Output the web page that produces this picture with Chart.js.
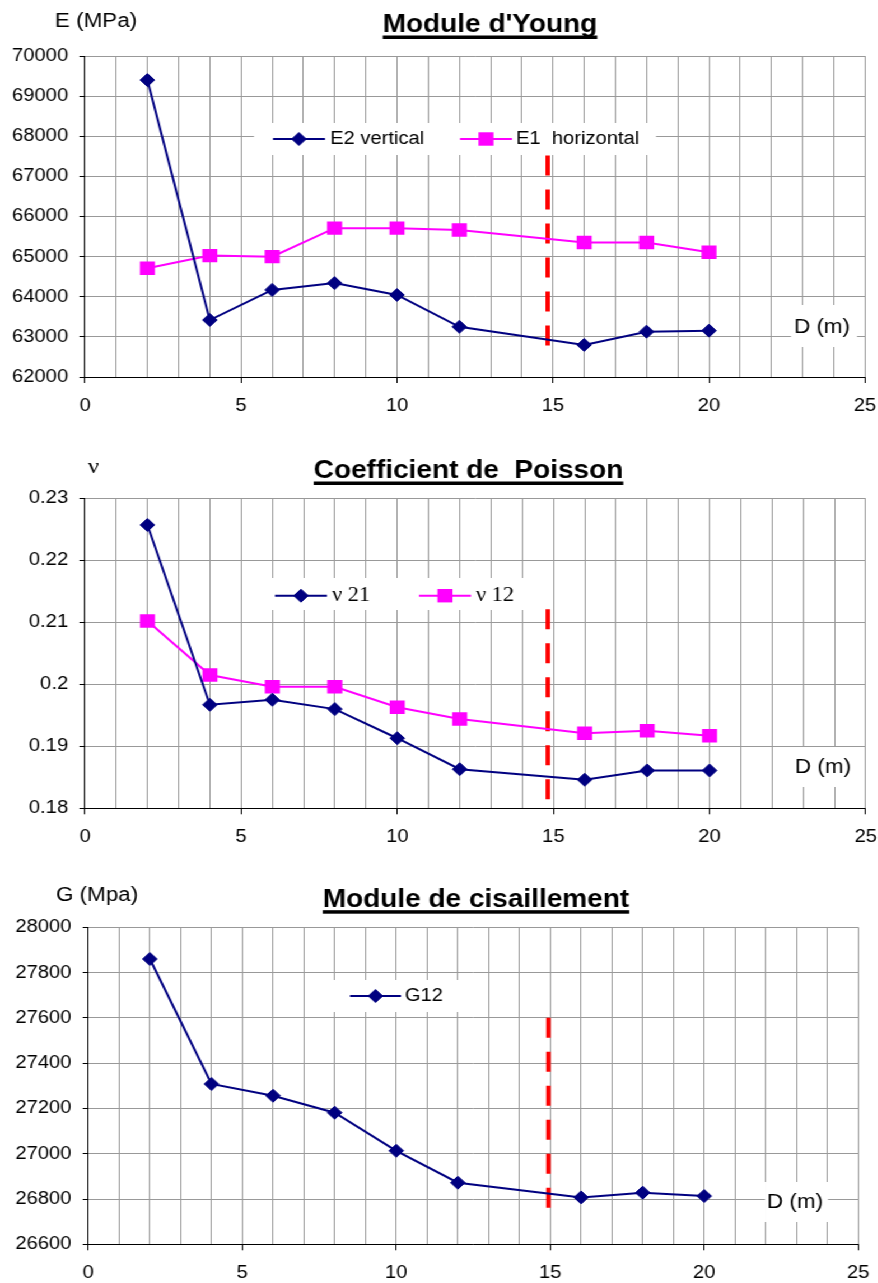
<!DOCTYPE html>
<html>
<head>
<meta charset="utf-8">
<script src="https://cdn.jsdelivr.net/npm/chart.js@4.4.0/dist/chart.umd.min.js"></script>
<style>
  body { margin: 0; background: #fff; }
  /* the original picture is stretched horizontally, so the charts are too */
  #wrap { width: 784px; transform: scaleX(1.12); transform-origin: 0 0; }
  canvas { display: block; }
</style>
</head>
<body>
<div id="wrap">
  <canvas id="young" width="784" height="430"></canvas>
  <canvas id="poisson" width="784" height="430"></canvas>
  <canvas id="shear" width="784" height="423"></canvas>
</div>
<script>
// depth D (m)
const depth = [2, 4, 6, 8, 10, 12, 16, 18, 20];

// Young's modulus (MPa)
const e2Vertical = [69400, 63420, 64170, 64340, 64045, 63250, 62800, 63130, 63155];
const e1Horizontal = [64710, 65025, 65000, 65710, 65710, 65665, 65350, 65350, 65110];

// Poisson ratios
const nu21 = [0.2257, 0.1967, 0.1975, 0.1960, 0.1913, 0.1863, 0.1846, 0.1861, 0.1861];
const nu12 = [0.2102, 0.2015, 0.1996, 0.1996, 0.1963, 0.1944, 0.1921, 0.1925, 0.1917];

// shear modulus (MPa)
const g12 = [27860, 27308, 27256, 27181, 27013, 26872, 26807, 26828, 26813];

// red dashed line near 15 m: [x, top, bottom]
const limitYoung = [14.83, 67520, 62655];
const limitPoisson = [14.82, 0.2121, 0.1809];
const limitShear = [14.94, 27600, 26740];

// axis ticks
const xTicks = [0, 5, 10, 15, 20, 25];
const eTicks = [62000, 63000, 64000, 65000, 66000, 67000, 68000, 69000, 70000];
const nuTicks = [0.18, 0.19, 0.2, 0.21, 0.22, 0.23];
const gTicks = [26600, 26800, 27000, 27200, 27400, 27600, 27800, 28000];

const STRETCH = 1.12;
const lx = x => x / STRETCH;   // picture x -> canvas x
const SANS = '"Liberation Sans", Arial, sans-serif';
const SERIF = '"Liberation Serif", "Times New Roman", serif';
const NAVY = '#000080', PINK = '#ff00ff', RED = '#ff0000', GRID = '#999999';

function series(label, values, color, style, radius) {
    return {
        label: label,
        data: depth.map((d, i) => ({ x: d, y: values[i] })),
        borderColor: color,
        backgroundColor: color,
        borderWidth: 2,
        pointStyle: style,
        pointRadius: radius,
        pointHoverRadius: radius,
        pointBorderWidth: style === 'rectRot' ? 1 : 0,
        pointBackgroundColor: color,
        pointBorderColor: color,
        tension: 0
    };
}

function limitLine(lim) {
    return {
        label: '',
        data: [{ x: lim[0], y: lim[1] }, { x: lim[0], y: lim[2] }],
        borderColor: RED,
        borderWidth: 4,
        borderDash: [20, 14],
        pointRadius: 0,
        pointHoverRadius: 0
    };
}

// titles, legend and "D (m)" label, positions in picture pixels
function overlay(cfg) {
    return {
        id: 'overlay',
        afterDatasetsDraw(chart) {
            const ctx = chart.ctx;
            const sets = chart.data.datasets;
            ctx.save();
            ctx.fillStyle = '#000';

            // y axis name
            ctx.font = cfg.yTitleFont;
            ctx.textAlign = 'left';
            ctx.textBaseline = 'alphabetic';
            ctx.fillText(cfg.yTitle, lx(cfg.yTitleX), cfg.yTitleY);

            // underlined title
            ctx.font = `bold 25px ${SANS}`;
            ctx.textAlign = 'center';
            ctx.fillText(cfg.title, lx(cfg.titleX), cfg.titleY);
            const w = ctx.measureText(cfg.title).width;
            ctx.fillRect(lx(cfg.titleX) - w / 2, cfg.titleY + 3.5, w, 3.5);

            // legend
            const b = cfg.legendBox;
            ctx.fillStyle = '#fff';
            ctx.fillRect(lx(b[0]), b[1], lx(b[2]) - lx(b[0]), b[3] - b[1]);
            cfg.legendItems.forEach(item => {
                const ds = sets[item[0]];
                const y = cfg.legendY;
                ctx.strokeStyle = ds.borderColor;
                ctx.lineWidth = 2;
                ctx.beginPath();
                ctx.moveTo(lx(item[1]), y);
                ctx.lineTo(lx(item[2]), y);
                ctx.stroke();
                ctx.fillStyle = ds.backgroundColor;
                ctx.lineWidth = ds.pointBorderWidth;
                Chart.helpers.drawPoint(ctx, {
                    pointStyle: ds.pointStyle,
                    radius: ds.pointRadius,
                    borderWidth: ds.pointBorderWidth,
                    rotation: 0
                }, lx((item[1] + item[2]) / 2), y);
                ctx.fillStyle = '#000';
                ctx.font = cfg.legendFont;
                ctx.textAlign = 'left';
                ctx.textBaseline = 'middle';
                ctx.fillText(ds.label, lx(item[3]), y);
            });

            // "D (m)" label
            const d = cfg.dBox;
            ctx.fillStyle = '#fff';
            ctx.fillRect(lx(d[0]), d[1], lx(d[2]) - lx(d[0]), d[3] - d[1]);
            ctx.fillStyle = '#000';
            ctx.font = `20px ${SANS}`;
            ctx.textAlign = 'left';
            ctx.textBaseline = 'middle';
            ctx.fillText('D (m)', lx(cfg.dX), cfg.dY);
            ctx.restore();
        }
    };
}

function makeChart(id, datasets, yTicks, fmt, area, cfg) {
    const canvas = document.getElementById(id);
    const H = canvas.height;
    return new Chart(canvas, {
        type: 'line',
        data: { datasets: datasets },
        options: {
            responsive: false,
            animation: false,
            events: [],
            layout: { padding: { left: 0, top: area.top, right: 784 - lx(area.right), bottom: 0 } },
            plugins: { legend: { display: false }, tooltip: { enabled: false } },
            scales: {
                x: {
                    type: 'linear',
                    min: 0,
                    max: 25,
                    border: { color: '#000', width: 1 },
                    grid: {
                        color: GRID,
                        lineWidth: 1,
                        tickLength: 6,
                        tickColor: c => xTicks.includes(c.tick && c.tick.value) ? '#000' : 'rgba(0,0,0,0)'
                    },
                    ticks: {
                        stepSize: 1,
                        autoSkip: false,
                        maxRotation: 0,
                        padding: 12,
                        color: '#000',
                        font: { family: SANS, size: 18 },
                        callback: v => xTicks.includes(v) ? String(v) : ''
                    },
                    afterFit: s => {
                        s.height = H - area.bottom;
                        s.paddingLeft = 0;
                        s.paddingRight = 0;
                    }
                },
                y: {
                    type: 'linear',
                    min: yTicks[0],
                    max: yTicks[yTicks.length - 1],
                    border: { color: '#000', width: 1 },
                    grid: { color: GRID, lineWidth: 1, tickLength: 5, tickColor: '#000' },
                    ticks: { padding: 10, color: '#000', font: { family: SANS, size: 18 }, callback: fmt },
                    afterBuildTicks: s => { s.ticks = yTicks.map(v => ({ value: v })); },
                    afterFit: s => { s.width = lx(area.left); }
                }
            }
        },
        plugins: [overlay(cfg)]
    });
}

makeChart('young', [
    series('E2 vertical', e2Vertical, NAVY, 'rectRot', 6.5),
    series('E1  horizontal', e1Horizontal, PINK, 'rect', 9.5),
    limitLine(limitYoung)
], eTicks, v => String(v),
{ left: 85, right: 865, top: 56, bottom: 377 },
{
    yTitle: 'E (MPa)', yTitleFont: `20px ${SANS}`, yTitleX: 55, yTitleY: 27,
    title: "Module d'Young", titleX: 490, titleY: 32,
    legendBox: [254, 123, 656, 155], legendY: 139, legendFont: `18px ${SANS}`,
    legendItems: [[0, 273, 325, 330], [1, 460, 512, 516]],
    dBox: [791, 305, 857, 347], dX: 794, dY: 327
});

makeChart('poisson', [
    series('\u03bd 21', nu21, NAVY, 'rectRot', 6.5),
    series('\u03bd 12', nu12, PINK, 'rect', 9.5),
    limitLine(limitPoisson)
], nuTicks, v => String(+v.toFixed(2)),
{ left: 85, right: 865.7, top: 68.3, bottom: 378.3 },
{
    yTitle: '\u03bd', yTitleFont: `22px ${SERIF}`, yTitleX: 88, yTitleY: 43,
    title: 'Coefficient de  Poisson', titleX: 468.5, titleY: 48,
    legendBox: [255, 148, 535, 180], legendY: 165.7, legendFont: `20px ${SERIF}`,
    legendItems: [[0, 275, 327, 332], [1, 419, 471, 476]],
    dBox: [790, 317, 853, 357], dX: 795, dY: 337
});

makeChart('shear', [
    series('G12', g12, NAVY, 'rectRot', 6.5),
    limitLine(limitShear)
], gTicks, v => String(v),
{ left: 88.3, right: 858.3, top: 67.3, bottom: 384.3 },
{
    yTitle: 'G (Mpa)', yTitleFont: `20px ${SANS}`, yTitleX: 56, yTitleY: 40.5,
    title: 'Module de cisaillement', titleX: 476, titleY: 46.7,
    legendBox: [333, 120, 460, 152], legendY: 136, legendFont: `18px ${SANS}`,
    legendItems: [[0, 350, 401, 405]],
    dBox: [765, 322, 828, 362], dX: 767, dY: 342
});
</script>
</body>
</html>
